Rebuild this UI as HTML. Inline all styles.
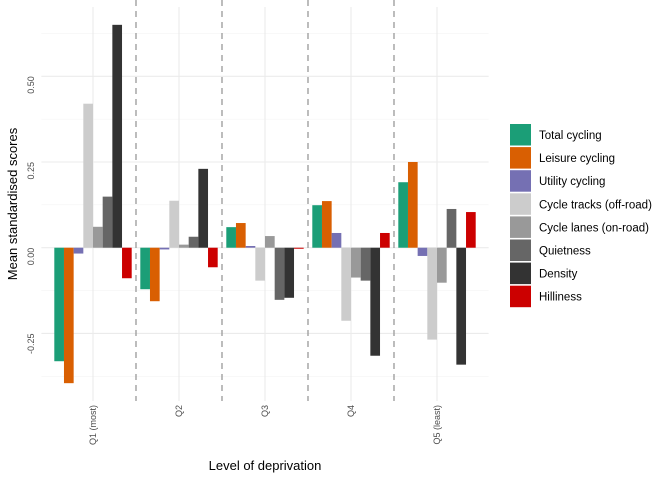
<!DOCTYPE html>
<html><head><meta charset="utf-8"><style>
body{margin:0;background:#fff;font-family:"Liberation Sans",sans-serif}
svg text{font-family:"Liberation Sans",sans-serif}
</style></head><body>
<svg id="chart" width="672" height="480" xmlns="http://www.w3.org/2000/svg"></svg>
<script>
const categories=["Q1 (most)","Q2","Q3","Q4","Q5 (least)"];
const seriesNames=["Total cycling","Leisure cycling","Utility cycling","Cycle tracks (off-road)","Cycle lanes (on-road)","Quietness","Density","Hilliness"];
const seriesColors=["#1B9E77","#D95F02","#7570B3","#CCCCCC","#999999","#666666","#333333","#CC0000"];
const totalCycling=[-0.331,-0.121,0.060,0.124,0.191];
const leisureCycling=[-0.395,-0.156,0.072,0.136,0.250];
const utilityCycling=[-0.017,-0.005,0.005,0.043,-0.024];
const cycleTracks=[0.420,0.137,-0.096,-0.213,-0.268];
const cycleLanes=[0.061,0.009,0.034,-0.087,-0.102];
const quietness=[0.149,0.032,-0.152,-0.096,0.113];
const density=[0.650,0.230,-0.146,-0.315,-0.341];
const hilliness=[-0.089,-0.057,-0.003,0.043,0.104];
const seriesValues=[totalCycling,leisureCycling,utilityCycling,cycleTracks,cycleLanes,quietness,density,hilliness];
const yTicks=[-0.25,0,0.25,0.5];
const yTickLabels=["-0.25","0.00","0.25","0.50"];
const yMinor=[-0.375,-0.125,0.125,0.375,0.625];

const svg=document.getElementById('chart');
const NS="http://www.w3.org/2000/svg";
const L=41.4,R=488.6,T=7,B=401;
const yMin=-0.447,yMax=0.702;
const y=v=>B-(v-yMin)/(yMax-yMin)*(B-T);
const step=(R-L)/5.2;
const x=i=>L+(i+0.6)*step;
function mk(tag,attrs,parent){const e=document.createElementNS(NS,tag);for(const k in attrs)e.setAttribute(k,attrs[k]);(parent||svg).appendChild(e);return e;}

const grid=mk('g',{});


yMinor.forEach(v=>mk('line',{x1:L,x2:R,y1:y(v),y2:y(v),stroke:'#f3f3f3','stroke-width':0.6},grid));
yTicks.forEach(v=>mk('line',{x1:L,x2:R,y1:y(v),y2:y(v),stroke:'#ebebeb','stroke-width':1.1},grid));
categories.forEach((c,i)=>mk('line',{x1:x(i),x2:x(i),y1:T,y2:B,stroke:'#ebebeb','stroke-width':1.1},grid));

const bw=step*0.9/8;
seriesValues.forEach((vals,s)=>{
  const g=mk('g',{});
  
  
  vals.forEach((v,i)=>{
    const x0=x(i)-step*0.45+s*bw;
    const r=mk('rect',{x:x0,width:bw,y:Math.min(y(v),y(0)),height:Math.abs(y(v)-y(0)),fill:seriesColors[s]},g);
    
    
  });
});

for(let i=0;i<4;i++){
  const xx=(x(i)+x(i+1))/2;
  const d=mk('line',{x1:xx,x2:xx,y1:0,y2:B,stroke:'#999','stroke-width':1.3,'stroke-dasharray':'6,5'});
  
  
}

yTicks.forEach((v,k)=>{
  const t=mk('text',{transform:`translate(34,${y(v)}) rotate(-90)`,'text-anchor':'end','font-size':9,fill:'#4d4d4d'});
  t.textContent=yTickLabels[k];
  
  
});
categories.forEach((c,i)=>{
  const t=mk('text',{transform:`translate(${x(i)+3},405) rotate(-90)`,'text-anchor':'end','font-size':9,fill:'#4d4d4d'});
  t.textContent=c;
  
  
});
const xt=mk('text',{x:265,y:470,'text-anchor':'middle','font-size':13,fill:'#000'});
xt.textContent='Level of deprivation';


const yt=mk('text',{transform:'translate(17,204) rotate(-90)','text-anchor':'middle','font-size':13,fill:'#000'});
yt.textContent='Mean standardised scores';



const lg=mk('g',{});


seriesNames.forEach((n,s)=>{
  const e=mk('g',{},lg);
  
  
  const top=124+s*23.1;
  mk('rect',{x:510,y:top,width:21,height:21.5,fill:seriesColors[s]},e);
  const t=mk('text',{x:539,y:top+15,'font-size':11.5,fill:'#000'},e);
  t.textContent=n;
});
</script>
</body></html>
